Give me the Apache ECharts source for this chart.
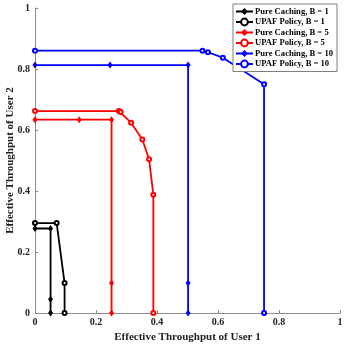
<!DOCTYPE html>
<html><head><meta charset="utf-8">
<script src="https://cdn.jsdelivr.net/npm/echarts@6/dist/echarts.min.js"></script>
<style>html,body{margin:0;padding:0;background:#fff}#c{width:346px;height:346px}</style>
</head><body><div id="c"></div>
<script>
const xTicks = [0, 0.2, 0.4, 0.6, 0.8, 1];
const pureB1 = [[0, 0.277], [0.051, 0.277], [0.051, 0.045], [0.051, 0]];
const upafB1 = [[0, 0.295], [0.071, 0.295], [0.097, 0.098], [0.097, 0]];
const pureB5 = [[0, 0.634], [0.145, 0.634], [0.251, 0.634], [0.251, 0.098], [0.251, 0]];
const upafB5 = [[0, 0.662], [0.275, 0.662], [0.281, 0.659], [0.315, 0.624], [0.352, 0.569], [0.374, 0.504], [0.388, 0.388], [0.388, 0]];
const pureB10 = [[0, 0.813], [0.246, 0.813], [0.502, 0.813], [0.502, 0.098], [0.502, 0]];
const upafB10 = [[0, 0.86], [0.549, 0.86], [0.567, 0.855], [0.616, 0.837], [0.751, 0.75], [0.751, 0]];
const names = ['Pure Caching, B = 1', 'UPAF Policy, B = 1', 'Pure Caching, B = 5', 'UPAF Policy, B = 5', 'Pure Caching, B = 10', 'UPAF Policy, B = 10'];
const colors = ['#000000', '#000000', '#ff0000', '#ff0000', '#0000ff', '#0000ff'];
const datasets = [pureB1, upafB1, pureB5, upafB5, pureB10, upafB10];

const font = 'Liberation Serif';
const series = datasets.map((d, i) => {
  const isPure = i % 2 === 0;
  return {
    name: names[i], type: 'line', data: d,
    symbol: isPure ? 'diamond' : 'emptyCircle',
    symbolSize: isPure ? [5, 7] : 4,
    showAllSymbol: true,
    lineStyle: { color: colors[i], width: 1.8 },
    itemStyle: { color: colors[i], borderColor: colors[i], borderWidth: isPure ? 0 : 1.7 },
    animation: false, z: 2
  };
});

const chart = echarts.init(document.getElementById('c'));
chart.setOption({
  animation: false,
  grid: { left: 35, right: 6, top: 8, bottom: 33, containLabel: false, outerBoundsMode: 'none' },
  legend: {
    data: names, orient: 'vertical', right: 9, top: 4,
    backgroundColor: '#fff', borderColor: '#7f7f7f', borderWidth: 1,
    padding: [3, 4, 3, 2], itemGap: 1.5, itemWidth: 17, itemHeight: 8.5,
    textStyle: { fontFamily: font, fontWeight: 'bold', fontSize: 8.6, color: '#000', padding: [0, 0, 0, -3] }
  },
  xAxis: {
    type: 'value', min: 0, max: 1, interval: 0.2,
    name: 'Effective Throughput of User 1', nameLocation: 'middle', nameGap: 19, nameMoveOverlap: false,
    nameTextStyle: { fontFamily: font, fontWeight: 'bold', fontSize: 11, color: '#222' },
    axisLine: { lineStyle: { color: '#8c8c8c', width: 1 } },
    axisTick: { inside: true, length: 3, lineStyle: { color: '#8c8c8c' } },
    axisLabel: { fontFamily: font, fontWeight: 'bold', fontSize: 10, color: '#222', margin: 4 },
    splitLine: { show: false }
  },
  yAxis: {
    type: 'value', min: 0, max: 1, interval: 0.2,
    name: 'Effective Throughput of User 2', nameLocation: 'middle', nameGap: 19, nameMoveOverlap: false,
    nameTextStyle: { fontFamily: font, fontWeight: 'bold', fontSize: 11, color: '#222' },
    axisLine: { lineStyle: { color: '#8c8c8c', width: 1 } },
    axisTick: { inside: true, length: 3, lineStyle: { color: '#8c8c8c' } },
    axisLabel: { fontFamily: font, fontWeight: 'bold', fontSize: 10, color: '#222', margin: 5 },
    splitLine: { show: false }
  },
  series: series
});
</script></body></html>
